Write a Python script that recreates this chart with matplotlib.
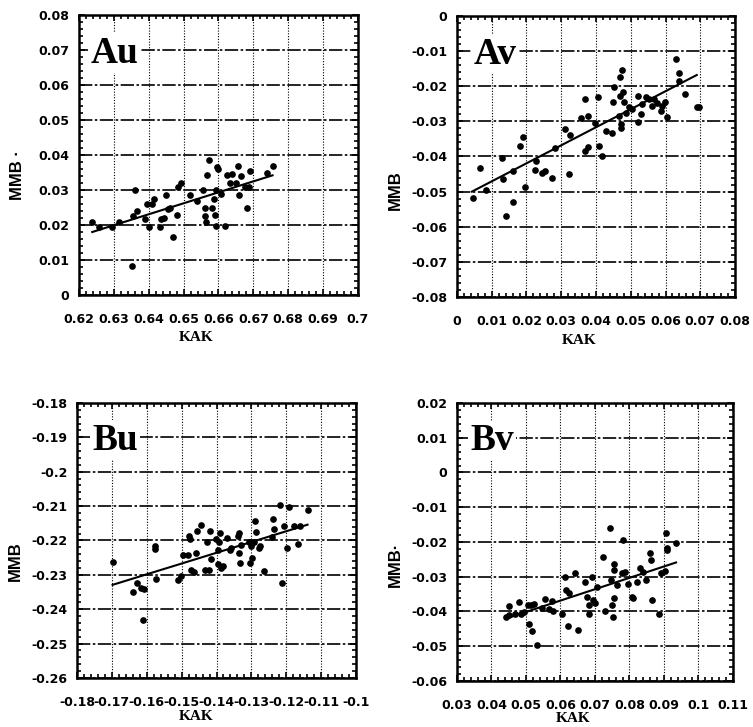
import numpy as np
import matplotlib
matplotlib.use('Agg')
import matplotlib.pyplot as plt
import matplotlib.ticker as ticker

plt.rcParams['axes.unicode_minus'] = False

# ---- panel Au ----
au_x = [0.6237, 0.6258, 0.6296, 0.6315, 0.6360, 0.6366, 0.6354, 0.6352, 0.6388, 0.6396,
        0.6400, 0.6410, 0.6416, 0.6431, 0.6436, 0.6445, 0.6450, 0.6455, 0.6462, 0.6470,
        0.6480, 0.6484, 0.6493, 0.6517, 0.6537, 0.6557, 0.6560, 0.6560, 0.6563, 0.6567,
        0.6573, 0.6580, 0.6587, 0.6590, 0.6594, 0.6594, 0.6596, 0.6600, 0.6606, 0.6620,
        0.6625, 0.6633, 0.6640, 0.6650, 0.6657, 0.6660, 0.6666, 0.6675, 0.6683, 0.6690,
        0.6687, 0.6738, 0.6755]
au_y = [0.0208, 0.0195, 0.0195, 0.0208, 0.0300, 0.0241, 0.0227, 0.0084, 0.0217, 0.0259,
        0.0195, 0.0260, 0.0275, 0.0195, 0.0216, 0.0220, 0.0285, 0.0247, 0.0250, 0.0165,
        0.0230, 0.0310, 0.0320, 0.0285, 0.0270, 0.0300, 0.0250, 0.0227, 0.0210, 0.0342,
        0.0385, 0.0250, 0.0275, 0.0230, 0.0197, 0.0300, 0.0365, 0.0360, 0.0290, 0.0197,
        0.0343, 0.0320, 0.0345, 0.0320, 0.0368, 0.0285, 0.0340, 0.0310, 0.0250, 0.0355,
        0.0310, 0.0350, 0.0368]
au_fit_x = [0.6238, 0.6755]
au_fit_y = [0.0180, 0.0342]

# ---- panel Av ----
av_x = [0.0046, 0.0067, 0.0084, 0.0129, 0.0133, 0.0141, 0.0160, 0.0162, 0.0181, 0.0189,
        0.0195, 0.0224, 0.0227, 0.0246, 0.0252, 0.0274, 0.0283, 0.0310, 0.0321, 0.0324,
        0.0357, 0.0367, 0.0367, 0.0376, 0.0378, 0.0397, 0.0405, 0.0408, 0.0416, 0.0429,
        0.0446, 0.0448, 0.0452, 0.0465, 0.0469, 0.0470, 0.0471, 0.0473, 0.0476, 0.0478,
        0.0481, 0.0486, 0.0495, 0.0505, 0.0522, 0.0522, 0.0529, 0.0533, 0.0543, 0.0552,
        0.0560, 0.0567, 0.0576, 0.0586, 0.0589, 0.0598, 0.0603, 0.0630, 0.0638, 0.0640,
        0.0655, 0.0690, 0.0695]
av_y = [-0.0517, -0.0433, -0.0495, -0.0404, -0.0464, -0.0569, -0.0440, -0.0531, -0.0371, -0.0345,
        -0.0486, -0.0438, -0.0412, -0.0447, -0.0442, -0.0462, -0.0377, -0.0323, -0.0450, -0.0339,
        -0.0289, -0.0237, -0.0383, -0.0374, -0.0284, -0.0304, -0.0232, -0.0371, -0.0399, -0.0328,
        -0.0332, -0.0246, -0.0201, -0.0284, -0.0229, -0.0174, -0.0308, -0.0318, -0.0153, -0.0217,
        -0.0246, -0.0275, -0.0260, -0.0265, -0.0227, -0.0301, -0.0278, -0.0251, -0.0232, -0.0237,
        -0.0256, -0.0237, -0.0249, -0.0270, -0.0256, -0.0244, -0.0287, -0.0122, -0.0163, -0.0184,
        -0.0222, -0.0259, -0.0259]
av_fit_x = [0.0043, 0.0690]
av_fit_y = [-0.0500, -0.0168]

# ---- panel Bu ----
bu_x = [-0.1698, -0.1639, -0.1627, -0.1617, -0.1608, -0.1610, -0.1577, -0.1575, -0.1573, -0.1511,
        -0.1503, -0.1497, -0.1482, -0.1478, -0.1475, -0.1473, -0.1465, -0.1459, -0.1456, -0.1445,
        -0.1433, -0.1427, -0.1421, -0.1418, -0.1416, -0.1402, -0.1397, -0.1395, -0.1392, -0.1389,
        -0.1386, -0.1380, -0.1370, -0.1361, -0.1359, -0.1338, -0.1336, -0.1336, -0.1333, -0.1329,
        -0.1307, -0.1304, -0.1300, -0.1298, -0.1293, -0.1291, -0.1288, -0.1279, -0.1274, -0.1264,
        -0.1241, -0.1238, -0.1236, -0.1219, -0.1212, -0.1206, -0.1198, -0.1193, -0.1179, -0.1167,
        -0.1160, -0.1139]
bu_y = [-0.2264, -0.2351, -0.2324, -0.2338, -0.2341, -0.2430, -0.2217, -0.2225, -0.2311, -0.2314,
        -0.2302, -0.2241, -0.2241, -0.2186, -0.2196, -0.2285, -0.2293, -0.2236, -0.2173, -0.2154,
        -0.2287, -0.2205, -0.2287, -0.2173, -0.2254, -0.2196, -0.2229, -0.2268, -0.2203, -0.2178,
        -0.2280, -0.2273, -0.2193, -0.2229, -0.2222, -0.2188, -0.2178, -0.2235, -0.2266, -0.2212,
        -0.2205, -0.2266, -0.2217, -0.2251, -0.2203, -0.2144, -0.2176, -0.2222, -0.2215, -0.2290,
        -0.2190, -0.2138, -0.2167, -0.2098, -0.2324, -0.2159, -0.2222, -0.2104, -0.2157, -0.2209,
        -0.2157, -0.2112]
bu_fit_x = [-0.1698, -0.1139]
bu_fit_y = [-0.2329, -0.2154]

# ---- panel Bv ----
bv_x = [0.0443, 0.0450, 0.0452, 0.0469, 0.0479, 0.0486, 0.0495, 0.0505, 0.0508, 0.0514,
        0.0517, 0.0524, 0.0531, 0.0546, 0.0556, 0.0567, 0.0575, 0.0578, 0.0603, 0.0613,
        0.0617, 0.0622, 0.0624, 0.0642, 0.0651, 0.0672, 0.0677, 0.0682, 0.0684, 0.0690,
        0.0693, 0.0699, 0.0706, 0.0722, 0.0728, 0.0744, 0.0747, 0.0749, 0.0751, 0.0756,
        0.0756, 0.0756, 0.0763, 0.0778, 0.0782, 0.0787, 0.0797, 0.0806, 0.0811, 0.0823,
        0.0830, 0.0840, 0.0849, 0.0859, 0.0862, 0.0866, 0.0885, 0.0892, 0.0904, 0.0907,
        0.0909, 0.0910, 0.0935]
bv_y = [-0.0417, -0.0410, -0.0385, -0.0408, -0.0372, -0.0406, -0.0401, -0.0382, -0.0435, -0.0382,
        -0.0456, -0.0379, -0.0497, -0.0391, -0.0365, -0.0394, -0.0369, -0.0398, -0.0406, -0.0302,
        -0.0338, -0.0441, -0.0348, -0.0288, -0.0452, -0.0314, -0.0358, -0.0382, -0.0408, -0.0300,
        -0.0367, -0.0377, -0.0329, -0.0244, -0.0398, -0.0161, -0.0310, -0.0382, -0.0415, -0.0263,
        -0.0281, -0.0360, -0.0324, -0.0290, -0.0194, -0.0286, -0.0321, -0.0358, -0.0360, -0.0314,
        -0.0276, -0.0286, -0.0310, -0.0233, -0.0252, -0.0367, -0.0406, -0.0288, -0.0283, -0.0175,
        -0.0218, -0.0223, -0.0202]
bv_fit_x = [0.0443, 0.0935]
bv_fit_y = [-0.0420, -0.0259]


def fmt(v, pos):
    s = f'{v:.2f}'.rstrip('0').rstrip('.')
    if s in ('-0', ''):
        s = '0'
    return s


fig = plt.figure(figsize=(7.53, 7.27), dpi=100)

panels = [
    # name, data, fit, xlim, ylim, axes rect, ylabel, ylabel y, xlabel x, xlabel y, text x
    ('Au', au_x, au_y, au_fit_x, au_fit_y, (0.62, 0.70), (0.0, 0.08),
     [0.1049, 0.5942, 0.3705, 0.3851], 'MMB ·', 0.43, 0.42, -0.13, 0.040),
    ('Av', av_x, av_y, av_fit_x, av_fit_y, (0.0, 0.08), (-0.08, 0.0),
     [0.6069, 0.5915, 0.3692, 0.3865], 'MMB', 0.38, 0.44, -0.13, 0.060),
    ('Bu', bu_x, bu_y, bu_fit_x, bu_fit_y, (-0.18, -0.10), (-0.26, -0.18),
     [0.1023, 0.0674, 0.3705, 0.3783], 'MMB', 0.425, 0.426, -0.115, 0.054),
    ('Bv', bv_x, bv_y, bv_fit_x, bv_fit_y, (0.03, 0.11), (-0.06, 0.02),
     [0.6069, 0.0633, 0.3665, 0.3824], 'MMB·', 0.42, 0.42, -0.112, 0.047),
]

for name, xs, ys, fx, fy, xlim, ylim, rect, ylab, ylab_y, xlab_x, xlab_y, tx in panels:
    ax = fig.add_axes(rect)
    ax.set_xlim(*xlim)
    ax.set_ylim(*ylim)

    ax.xaxis.set_major_locator(ticker.MultipleLocator(0.01))
    ax.yaxis.set_major_locator(ticker.MultipleLocator(0.01))
    ax.xaxis.set_minor_locator(ticker.MultipleLocator(0.002))
    ax.yaxis.set_minor_locator(ticker.MultipleLocator(0.002))
    ax.xaxis.set_major_formatter(ticker.FuncFormatter(fmt))
    ax.yaxis.set_major_formatter(ticker.FuncFormatter(fmt))

    ax.tick_params(which='both', direction='in', top=True, right=True, width=1.2, color='black')
    ax.tick_params(which='major', length=4)
    ax.tick_params(which='minor', length=3)
    ax.tick_params(axis='x', which='major', pad=13)
    ax.tick_params(axis='y', which='major', pad=7)
    for lab in ax.get_xticklabels() + ax.get_yticklabels():
        lab.set_fontfamily('DejaVu Sans')
        lab.set_fontweight('bold')
        lab.set_fontsize(9)

    for sp in ax.spines.values():
        sp.set_linewidth(1.8)

    # grid: heavy dash-dot horizontals, dotted verticals
    ax.grid(True, axis='y', which='major', color='black', linewidth=1.2,
            linestyle=(0, (8, 1.5, 1.5, 1.5)))
    ax.grid(True, axis='x', which='major', color='black', linewidth=0.8,
            linestyle=(0, (1, 1.5)))
    ax.set_axisbelow(True)

    ax.plot(xs, ys, 'o', color='black', markersize=3.8, zorder=3)
    ax.plot(fx, fy, '-', color='black', linewidth=1.5, zorder=3)

    ax.set_ylabel(ylab, fontfamily='Liberation Sans', fontweight='bold', fontsize=12)
    ax.yaxis.set_label_coords(-0.195, ylab_y)
    ax.set_xlabel('KAK', fontfamily='Liberation Serif', fontweight='bold', fontsize=11)
    ax.xaxis.set_label_coords(xlab_x, xlab_y)

    ax.text(tx, 0.83, name, transform=ax.transAxes, fontfamily='Liberation Serif',
            fontweight='bold', fontsize=27, ha='left', va='baseline', zorder=4,
            bbox=dict(facecolor='white', edgecolor='none', pad=1.5))

fig.savefig('out.png', dpi=100)
